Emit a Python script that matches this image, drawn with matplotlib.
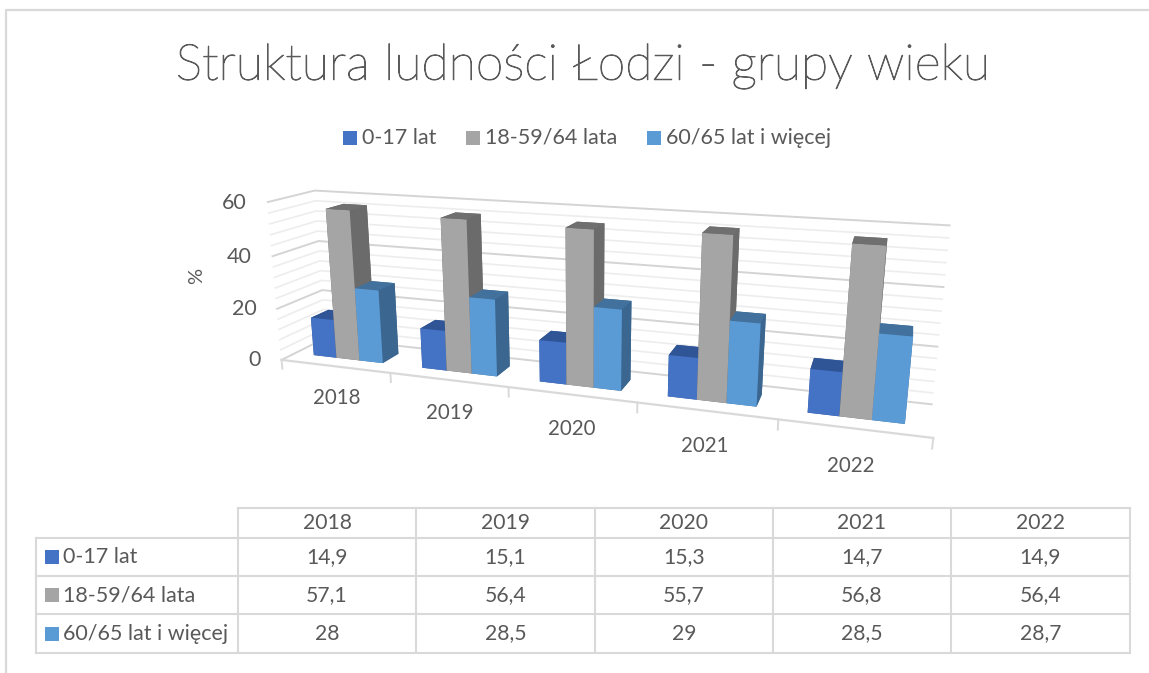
import numpy as np
import matplotlib
matplotlib.use('Agg')
import matplotlib.pyplot as plt
import matplotlib.patheffects as pe
from matplotlib.patches import Rectangle

years = ['2018', '2019', '2020', '2021', '2022']
series_names = ['0-17 lat', '18-59/64 lata', '60/65 lat i więcej']
young = [14.9, 15.1, 15.3, 14.7, 14.9]
working = [57.1, 56.4, 55.7, 56.8, 56.4]
old = [28, 28.5, 29, 28.5, 28.7]
table_young = ['14,9', '15,1', '15,3', '14,7', '14,9']
table_working = ['57,1', '56,4', '55,7', '56,8', '56,4']
table_old = ['28', '28,5', '29', '28,5', '28,7']
y_ticks = [0, 20, 40, 60]

front_cols = ['#4472C4', '#A5A5A5', '#5B9BD5']
top_cols = ['#2F5597', '#6F6F6F', '#41719C']
side_cols = ['#2F5597', '#6B6B6B', '#3A668F']
text_col = '#595959'
line_col = '#D9D9D9'

plt.rcParams['font.family'] = ['Lato', 'DejaVu Sans']

W, H = 1149, 673
fig = plt.figure(figsize=(W / 100, H / 100), dpi=100)

# 3d part, the axes is bigger than the drawn box on purpose
side = 684
left, bottom_px = 234, 650
ax = fig.add_axes([left / W, 1 - bottom_px / H, side / W, side / H],
                  projection='3d', computed_zorder=False)
ax.set_proj_type('persp', focal_length=0.257)
ax.view_init(elev=15, azim=-71.5)
ax.set_box_aspect((672, 85, 174), zoom=0.99)
ax.set_axis_off()

n = len(years)

# walls
for z in np.arange(0, 61, 4):
    major = z % 20 == 0
    c = '#D4D4D4' if major else '#EDEDED'
    lw = 1.4 if major else 1.2
    ax.plot([0, 0, n], [0, 1, 1], [z, z, z], color=c, lw=lw, zorder=1, clip_on=False)

# floor edge and ticks
ax.plot([0, n], [0, 0], [0, 0], color=line_col, lw=1.6, zorder=2, clip_on=False)
for i in range(n + 1):
    ax.plot([i, i], [0, 0], [0, -3.5], color=line_col, lw=1.4, zorder=2, clip_on=False)

# bars, one call so the faces get sorted together
bar_w = 0.215
xs, ys, dx, dy, dz, cols = [], [], [], [], [], []
for s, vals in enumerate([young, working, old]):
    for i, v in enumerate(vals):
        xs.append(i + 0.5 + (s - 1.5) * bar_w)
        ys.append(0.3)
        dx.append(bar_w)
        dy.append(0.4)
        dz.append(v)
        # order of faces: -z, +z, -y, +y, -x, +x
        cols += [top_cols[s], top_cols[s], front_cols[s], side_cols[s], side_cols[s], side_cols[s]]
ax.bar3d(xs, ys, 0, dx, dy, dz, color=cols, shade=False, zorder=3, clip_on=False)

ax.set_xlim(0, n)
ax.set_ylim(0, 1)
ax.set_zlim(0, 60)
ax.set_xticks([])
ax.set_yticks([])
ax.set_zticks([])

for i, y in enumerate(years):
    ax.text(i + 0.5, 0, -12.5, y, ha='center', va='center', fontsize=14.8, color=text_col)
for t in y_ticks:
    ax.text(-0.2, 0, t - 1, str(t), ha='right', va='center', fontsize=15.5, color=text_col)

# flat overlay in pixels for title, legend and table
ov = fig.add_axes([0, 0, 1, 1])
ov.set_xlim(0, W)
ov.set_ylim(H, 0)
ov.set_xticks([])
ov.set_yticks([])
ov.axis('off')
ov.patch.set_visible(False)

ov.plot([6, 6, W], [H, 10, 10], color=line_col, lw=1.6)
title = ov.text(583, 66, 'Struktura ludności Łodzi - grupy wieku', ha='center', va='center',
                fontsize=36, color=text_col, fontweight='light')
title.set_path_effects([pe.withStroke(linewidth=0.7, foreground=text_col)])
ov.text(197, 276, '%', rotation=90, ha='center', va='center', fontsize=14.5, color=text_col)

legend_x = [343, 466, 647]
for name, x, c in zip(series_names, legend_x, front_cols):
    ov.add_patch(Rectangle((x, 131), 14, 14, color=c, lw=0))
    ov.text(x + 19, 138, name, ha='left', va='center', fontsize=15.5, color=text_col)

# data table
col_x = [238, 416, 595, 773, 951, 1130]
row_y = [508, 538, 576, 614, 653]
for y in row_y[1:]:
    ov.plot([36, 1130], [y, y], color=line_col, lw=1.5)
ov.plot([238, 1130], [row_y[0], row_y[0]], color=line_col, lw=1.5)
ov.plot([36, 36], [row_y[1], row_y[-1]], color=line_col, lw=1.5)
for x in col_x:
    ov.plot([x, x], [row_y[0], row_y[-1]], color=line_col, lw=1.5)

for j, y in enumerate(years):
    ov.text((col_x[j] + col_x[j + 1]) / 2, 523, y, ha='center', va='center', fontsize=15.2, color=text_col)
for r, (name, row) in enumerate(zip(series_names, [table_young, table_working, table_old])):
    yc = (row_y[r + 1] + row_y[r + 2]) / 2
    ov.add_patch(Rectangle((45, yc - 7), 14, 14, color=front_cols[r], lw=0))
    ov.text(63, yc, name, ha='left', va='center', fontsize=15.5, color=text_col)
    for j, v in enumerate(row):
        ov.text((col_x[j] + col_x[j + 1]) / 2, yc, v, ha='center', va='center', fontsize=15.2, color=text_col)

plt.savefig('out.png', dpi=100)
